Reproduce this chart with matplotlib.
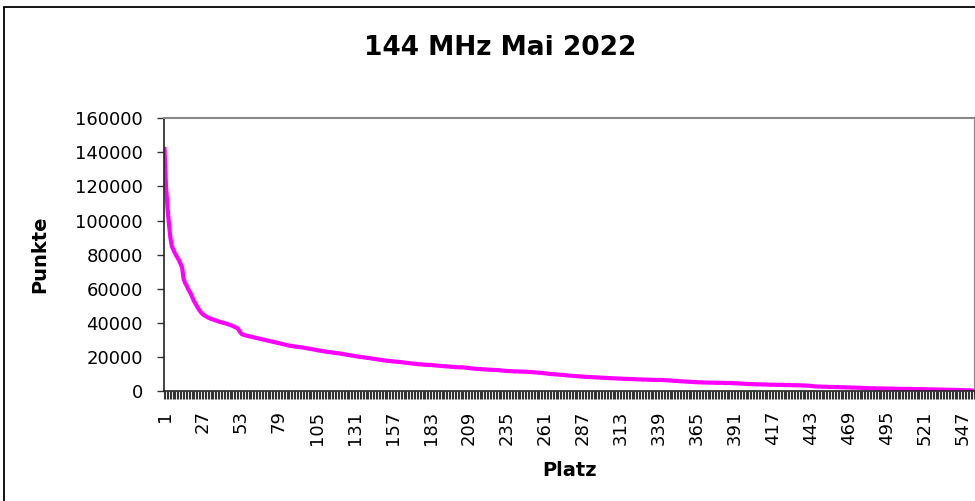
from matplotlib import pyplot as plt
from matplotlib.patches import Rectangle
import numpy as np

# the original text is a wide Arial; DejaVu Sans matches its proportions better
plt.rcParams['font.family'] = ['DejaVu Sans']

# Punkte je Platz (Platz 1 .. 555)
punkte = [
    142000, 120000, 108000, 98000, 90000, 85000, 83000, 81000, 79500, 78000,
    76500, 74500, 72500, 66000, 63500, 62000, 60000, 58500, 57000, 55000,
    53000, 51500, 50000, 48500, 47200, 46000, 45200, 44500, 44000, 43500,
    43000, 42600, 42300, 42000, 41700, 41400, 41100, 40800, 40500, 40300,
    40000, 39800, 39600, 39300, 39000, 38700, 38400, 38000, 37600, 37200,
    36800, 35500, 34200, 33300, 33000, 32700, 32500, 32300, 32100, 31900,
    31700, 31500, 31300, 31100, 30900, 30700, 30500, 30300, 30100, 29900,
    29700, 29500, 29300, 29100, 28900, 28700, 28500, 28300, 28100, 27900,
    27700, 27500, 27300, 27100, 26900, 26700, 26500, 26400, 26300, 26100,
    26000, 25900, 25800, 25700, 25600, 25400, 25300, 25100, 25000, 24800,
    24700, 24500, 24400, 24200, 24000, 23900, 23700, 23600, 23400, 23300,
    23200, 23000, 22900, 22800, 22700, 22600, 22400, 22300, 22200, 22100,
    22000, 21800, 21700, 21500, 21400, 21200, 21100, 21000, 20800, 20700,
    20500, 20400, 20200, 20100, 20000, 19900, 19800, 19700, 19500, 19400,
    19300, 19200, 19000, 18900, 18800, 18600, 18500, 18400, 18300, 18100,
    18000, 17900, 17800, 17700, 17600, 17500, 17400, 17300, 17200, 17200,
    17100, 17000, 16900, 16800, 16700, 16600, 16500, 16400, 16300, 16200,
    16100, 16000, 15900, 15800, 15700, 15700, 15600, 15500, 15400, 15400,
    15300, 15300, 15300, 15200, 15100, 15000, 14900, 14900, 14800, 14700,
    14600, 14600, 14500, 14400, 14400, 14300, 14200, 14200, 14100, 14000,
    14000, 13900, 13900, 13900, 13900, 13800, 13700, 13600, 13500, 13400,
    13300, 13200, 13100, 13000, 13000, 12900, 12900, 12800, 12700, 12700,
    12600, 12600, 12500, 12500, 12400, 12400, 12300, 12300, 12300, 12200,
    12100, 12000, 11900, 11800, 11800, 11700, 11700, 11600, 11600, 11500,
    11500, 11500, 11500, 11400, 11400, 11400, 11300, 11300, 11300, 11200,
    11200, 11100, 11000, 11000, 10900, 10800, 10700, 10700, 10600, 10500,
    10400, 10300, 10200, 10100, 10000, 9900, 9900, 9800, 9700, 9700,
    9600, 9500, 9500, 9400, 9300, 9200, 9100, 9000, 9000, 8900,
    8800, 8800, 8700, 8600, 8600, 8500, 8400, 8400, 8300, 8300,
    8200, 8200, 8100, 8100, 8000, 8000, 8000, 7900, 7900, 7800,
    7800, 7700, 7700, 7600, 7600, 7500, 7500, 7500, 7400, 7400,
    7300, 7300, 7300, 7200, 7200, 7100, 7100, 7100, 7000, 7000,
    7000, 6900, 6900, 6900, 6800, 6800, 6800, 6700, 6700, 6700,
    6700, 6600, 6600, 6600, 6600, 6500, 6500, 6500, 6500, 6500,
    6500, 6400, 6400, 6300, 6300, 6200, 6200, 6100, 6000, 6000,
    5900, 5900, 5800, 5700, 5700, 5600, 5600, 5500, 5500, 5400,
    5400, 5300, 5300, 5200, 5200, 5100, 5100, 5100, 5000, 5000,
    5000, 5000, 4900, 4900, 4900, 4900, 4900, 4800, 4800, 4800,
    4800, 4800, 4800, 4700, 4700, 4700, 4700, 4700, 4700, 4600,
    4600, 4500, 4500, 4400, 4400, 4300, 4300, 4200, 4200, 4100,
    4100, 4100, 4000, 4000, 4000, 3900, 3900, 3900, 3900, 3800,
    3800, 3800, 3800, 3700, 3700, 3700, 3700, 3700, 3600, 3600,
    3600, 3600, 3600, 3600, 3500, 3500, 3500, 3500, 3500, 3400,
    3400, 3400, 3400, 3300, 3300, 3300, 3300, 3200, 3200, 3200,
    3100, 3100, 3000, 2900, 2800, 2700, 2700, 2600, 2600, 2600,
    2500, 2500, 2500, 2500, 2400, 2400, 2400, 2400, 2300, 2300,
    2300, 2300, 2200, 2200, 2200, 2200, 2100, 2100, 2100, 2100,
    2000, 2000, 2000, 2000, 1900, 1900, 1900, 1800, 1800, 1700,
    1700, 1700, 1600, 1600, 1600, 1600, 1600, 1500, 1500, 1500,
    1500, 1500, 1500, 1400, 1400, 1400, 1400, 1400, 1400, 1300,
    1300, 1300, 1300, 1300, 1300, 1200, 1200, 1200, 1200, 1200,
    1200, 1200, 1100, 1100, 1100, 1100, 1100, 1100, 1100, 1100,
    1000, 1000, 1000, 1000, 1000, 1000, 950, 900, 900, 850,
    850, 800, 800, 800, 750, 750, 700, 700, 700, 650,
    650, 600, 600, 600, 550, 550, 500, 500, 450, 450,
    400, 400, 350, 300, 200,
]
platz = list(range(1, len(punkte) + 1))
platz_labels = list(range(1, len(punkte) + 1, 26))
y_ticks = [0, 20000, 40000, 60000, 80000, 100000, 120000, 140000, 160000]

fig = plt.figure(figsize=(9.75, 5.01), dpi=100)
ax = fig.add_axes([163.8 / 975, 1 - 391 / 501, 1 - 163.8 / 975, (391 - 118.3) / 501])

# outer chart border (cut off right / bottom like in the original)
fig.patches.append(Rectangle((4 / 975, -0.05), 1.1, 1 - 7 / 501 + 0.05,
                             transform=fig.transFigure, fill=False,
                             edgecolor='black', linewidth=1.3))

ax.plot(platz, punkte, color='#FF00FF', linewidth=3, solid_joinstyle='miter')

ax.set_xlim(0.5, len(punkte) + 0.5)
ax.set_ylim(0, 160000)

# tick marks between categories, labels every 26th Platz
ax.set_xticks(np.arange(0.5, len(punkte) + 1, 1.0))
ax.set_xticklabels([])
ax.tick_params(axis='x', which='major', length=6, width=0.8, color='#333333')
ax.set_xticks(platz_labels, minor=True)
ax.set_xticklabels([str(p) for p in platz_labels], minor=True, rotation=90,
                   fontsize=13)
ax.tick_params(axis='x', which='minor', length=0, pad=14)

ax.set_yticks(y_ticks)
ax.set_yticklabels([str(v) for v in y_ticks], fontsize=13)
ax.tick_params(axis='y', length=5, width=1, pad=10, color='#333333')

for s in ['top', 'right']:
    ax.spines[s].set_color('#888888')
    ax.spines[s].set_linewidth(1.5)
for s in ['left', 'bottom']:
    ax.spines[s].set_color('#222222')
    ax.spines[s].set_linewidth(1.2)

fig.text(500 / 975, 1 - 48 / 501, '144 MHz Mai 2022', ha='center', va='center',
         fontsize=19, fontweight='bold')
fig.text(40 / 975, 1 - 254 / 501, 'Punkte', ha='center', va='center',
         rotation=90, fontsize=14, fontweight='bold')
fig.text(569 / 975, 1 - 470 / 501, 'Platz', ha='center', va='center',
         fontsize=14, fontweight='bold')

fig.savefig('out.png', dpi=100)
